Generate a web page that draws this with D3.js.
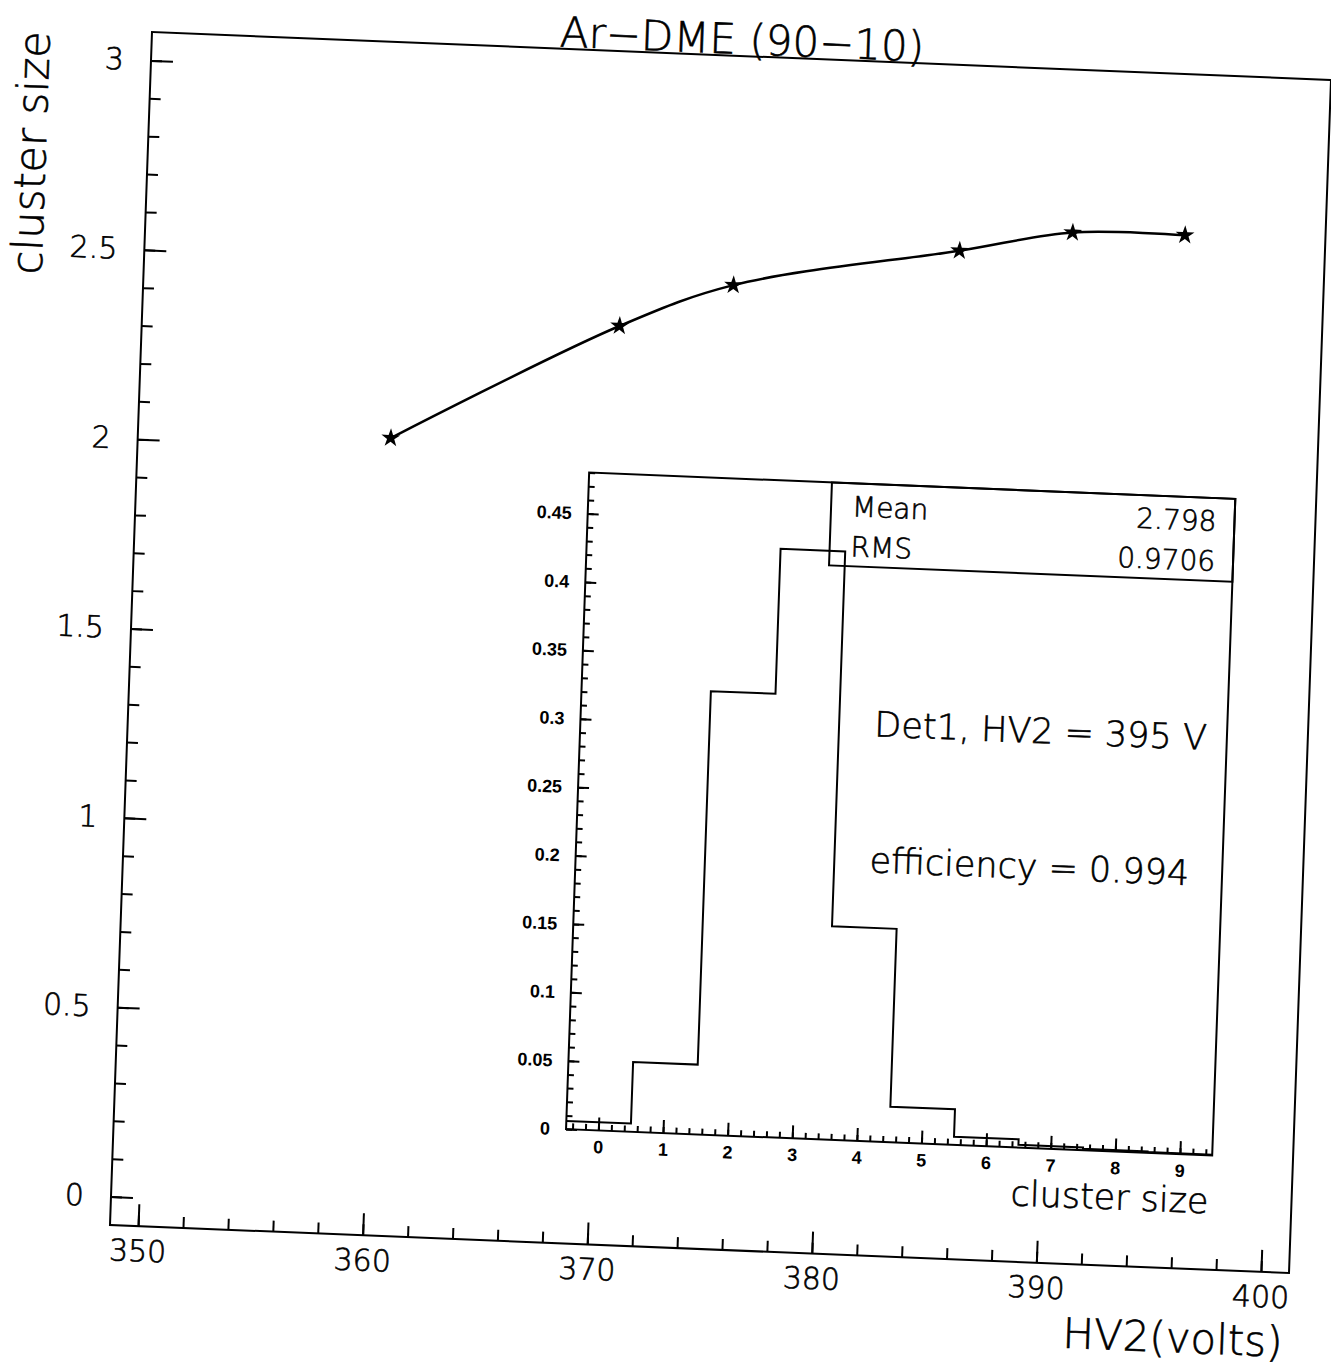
<!DOCTYPE html>
<html>
<head>
<meta charset="utf-8">
<script src="https://cdn.jsdelivr.net/npm/d3@7"></script>
<style>
  body { margin: 0; background: #fff; }
  svg { display: block; background: #fff; }
  text { font-family: "DejaVu Sans", sans-serif; font-weight: 200; fill: #000; stroke: #000; stroke-width: 0.6; }
  .tick line { stroke: #000; stroke-width: 2; }
  .inset .tick text { font-family: "Liberation Sans", sans-serif; font-weight: bold; font-size: 18px; stroke: none; }
</style>
</head>
<body>
<svg id="chart" width="1331" height="1366"></svg>
<script>
// Cluster size vs HV2 (main plot)
const hvVolts = [360, 370, 375, 385, 390, 395];
const clusterSize = [2.03, 2.35, 2.47, 2.585, 2.645, 2.65];

// Cluster size distribution at 395 V (inset histogram)
const clusterBins = [0, 1, 2, 3, 4, 5, 6, 7, 8, 9];
const binFraction = [0.006, 0.051, 0.324, 0.43, 0.156, 0.026, 0.006, 0.002, 0.001, 0.0005];

// Tick labels
const hvTicks = [350, 360, 370, 380, 390, 400];
const sizeTicks = [0, 0.5, 1, 1.5, 2, 2.5, 3];
const fractionTicks = [0, 0.05, 0.1, 0.15, 0.2, 0.25, 0.3, 0.35, 0.4, 0.45];

// Texts of the inset
const statNames = ['Mean', 'RMS'];
const statValues = ['2.798', '0.9706'];
const insetNotes = ['Det1, HV2 = 395 V', 'efficiency = 0.994'];

const W = 1180;
const H = 1194;
const svg = d3.select('#chart');

// The scanned page is tilted (and a little sheared), so draw everything in one skewed group
const page = svg.append('g')
  .attr('transform', 'matrix(0.99915,0.04068,-0.03518,0.99916,152,32)');

// Scales of the main plot
const x = d3.scaleLinear().domain([348.75, 401.25]).range([0, W]);
const y = d3.scaleLinear().domain([-0.075, 3.075]).range([H, 0]);

const noDomain = g => g.select('.domain').remove();

page.append('rect')
  .attr('width', W)
  .attr('height', H)
  .attr('fill', 'none')
  .attr('stroke', '#000')
  .attr('stroke-width', 2);

// Y axis, minor then major ticks (pointing inwards)
page.append('g')
  .call(d3.axisLeft(y).tickValues(d3.range(0, 3.001, 0.1)).tickSize(-11).tickFormat(''))
  .call(noDomain);

page.append('g')
  .attr('class', 'y axis')
  .call(d3.axisLeft(y).tickValues(sizeTicks).tickSize(-22).tickPadding(27).tickFormat(d3.format('~g')))
  .call(noDomain)
  .selectAll('text')
  .style('font-size', '30px');

// X axis
page.append('g')
  .attr('transform', `translate(0,${H})`)
  .call(d3.axisBottom(x).tickValues(d3.range(350, 400.1, 2)).tickSize(-11).tickFormat(''))
  .call(noDomain);

page.append('g')
  .attr('class', 'x axis')
  .attr('transform', `translate(0,${H})`)
  .call(d3.axisBottom(x).tickValues(hvTicks).tickSize(-22).tickPadding(14))
  .call(noDomain)
  .selectAll('text')
  .style('font-size', '30px');

// Titles
page.append('text')
  .attr('x', W / 2)
  .attr('y', -2)
  .attr('text-anchor', 'middle')
  .style('font-size', '42px')
  .text('Ar\u2212DME (90\u221210)');

page.append('text')
  .attr('transform', 'translate(-102,4) rotate(-90)')
  .attr('text-anchor', 'end')
  .style('font-size', '43px')
  .text('cluster size');

page.append('text')
  .attr('x', W - 4)
  .attr('y', H + 84)
  .attr('text-anchor', 'end')
  .style('font-size', '42px')
  .text('HV2(volts)');

// Smooth curve with star markers
const points = hvVolts.map((v, i) => [v, clusterSize[i]]);

page.append('path')
  .datum(points)
  .attr('fill', 'none')
  .attr('stroke', '#000')
  .attr('stroke-width', 2.5)
  .attr('d', d3.line().x(d => x(d[0])).y(d => y(d[1])).curve(d3.curveCatmullRom.alpha(0.5)));

page.selectAll('.star')
  .data(points)
  .join('path')
  .attr('class', 'star')
  .attr('transform', d => `translate(${x(d[0])},${y(d[1])})`)
  .attr('d', d3.symbol(d3.symbolStar, 110))
  .attr('fill', '#000');

// Inset histogram
const IW = 646.7;
const IH = 657.1;
const inset = page.append('g')
  .attr('class', 'inset')
  .attr('transform', 'translate(452.4,422.5)');

const ix = d3.scaleLinear().domain([-0.5, 9.5]).range([0, IW]);
const iy = d3.scaleLinear().domain([0, 0.48]).range([IH, 0]);

inset.append('rect')
  .attr('width', IW)
  .attr('height', IH)
  .attr('fill', 'none')
  .attr('stroke', '#000')
  .attr('stroke-width', 2);

inset.append('g')
  .call(d3.axisLeft(iy).tickValues(d3.range(0, 0.4801, 0.01)).tickSize(-6).tickFormat(''))
  .call(noDomain);

inset.append('g')
  .call(d3.axisLeft(iy).tickValues(fractionTicks).tickSize(-11).tickPadding(16).tickFormat(d3.format('~g')))
  .call(noDomain);

inset.append('g')
  .attr('transform', `translate(0,${IH})`)
  .call(d3.axisBottom(ix).tickValues(d3.range(-0.4, 9.5, 0.2)).tickSize(-6).tickFormat(''))
  .call(noDomain);

inset.append('g')
  .attr('transform', `translate(0,${IH})`)
  .call(d3.axisBottom(ix).tickValues(clusterBins).tickSize(-13).tickPadding(10))
  .call(noDomain);

// Histogram outline: one step per bin
const steps = clusterBins.map((b, i) => [b - 0.5, binFraction[i]]);
steps.push([9.5, binFraction[binFraction.length - 1]]);

inset.append('path')
  .datum(steps)
  .attr('fill', 'none')
  .attr('stroke', '#000')
  .attr('stroke-width', 2)
  .attr('d', d3.line().x(d => ix(d[0])).y(d => iy(d[1])).curve(d3.curveStepAfter));

// Statistics box in the top right corner
inset.append('rect')
  .attr('x', 243)
  .attr('width', IW - 243)
  .attr('height', 83)
  .attr('fill', 'none')
  .attr('stroke', '#000')
  .attr('stroke-width', 2);

statNames.forEach((name, i) => {
  inset.append('text')
    .attr('x', 264)
    .attr('y', 33 + i * 40)
    .style('font-size', '28px')
    .text(name);
  inset.append('text')
    .attr('x', IW - 18)
    .attr('y', 33 + i * 40)
    .attr('text-anchor', 'end')
    .style('font-size', '28px')
    .text(statValues[i]);
});

insetNotes.forEach((note, i) => {
  inset.append('text')
    .attr('x', 294)
    .attr('y', 252 + i * 136)
    .style('font-size', '35px')
    .text(note);
});

inset.append('text')
  .attr('x', IW - 2)
  .attr('y', IH + 58)
  .attr('text-anchor', 'end')
  .style('font-size', '35px')
  .text('cluster size');
</script>
</body>
</html>
